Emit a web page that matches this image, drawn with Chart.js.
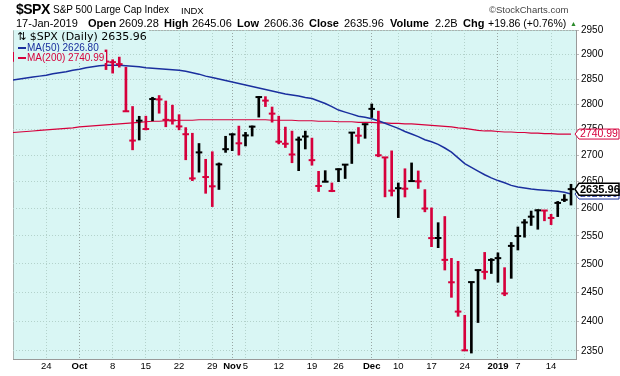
<!DOCTYPE html>
<html>
<head>
<meta charset="utf-8">
<title>$SPX Daily</title>
<script src="https://cdn.jsdelivr.net/npm/chart.js@4.4.1/dist/chart.umd.min.js"></script>
<style>
    html, body { margin: 0; padding: 0; background: #fff; }
    #wrap { position: relative; width: 620px; height: 376px; overflow: hidden; }
    #graph_spx { position: absolute; left: 0; top: 0; }
    .txt { position: absolute; white-space: nowrap; color: #000; line-height: 1;
           font-family: "Liberation Sans", Arial, sans-serif; font-size: 11px; }
    .l2 { top: 18px; }
    .b { font-weight: bold; }
    .lg { position: absolute; left: 14px; background: #d9f6f4; white-space: nowrap; line-height: 1;
          font-family: "Liberation Sans", Arial, sans-serif; font-size: 10px; padding: 1px 2px 0 4px; }
    .dash { display: inline-block; width: 8px; height: 2px; vertical-align: middle; margin-right: 1px; }
</style>
</head>
<body>
<div id="wrap">
    <canvas id="graph_spx" width="620" height="376"></canvas>

    <!-- cabecera -->
    <div class="txt b" style="left:16px; top:2px; font-size:14px; letter-spacing:-0.5px;">$SPX</div>
    <div class="txt" style="left:53px; top:5px; font-size:10px;">S&amp;P 500 Large Cap Index</div>
    <div class="txt" style="left:181px; top:6px; font-size:9.5px;">INDX</div>
    <div class="txt" style="left:489px; top:5px; font-size:9.5px; color:#444;">&copy;StockCharts.com</div>

    <div class="txt l2" style="left:16px;">17-Jan-2019</div>
    <div class="txt l2 b" style="left:88px;">Open</div>
    <div class="txt l2" style="left:119px;">2609.28</div>
    <div class="txt l2 b" style="left:164px;">High</div>
    <div class="txt l2" style="left:192px;">2645.06</div>
    <div class="txt l2 b" style="left:237px;">Low</div>
    <div class="txt l2" style="left:264px;">2606.36</div>
    <div class="txt l2 b" style="left:309px;">Close</div>
    <div class="txt l2" style="left:344px;">2635.96</div>
    <div class="txt l2 b" style="left:390px;">Volume</div>
    <div class="txt l2" style="left:435px;">2.2B</div>
    <div class="txt l2 b" style="left:463px;">Chg</div>
    <div class="txt l2" style="left:488px; font-size:10.5px;">+19.86 (+0.76%)</div>
    <div class="txt" style="left:570px; top:20px; font-size:7px; color:#2a8a2a;">&#9650;</div>

    <!-- leyenda -->
    <div class="lg" style="top:30px; font-family:'DejaVu Sans',Verdana,sans-serif; font-size:11px; padding-left:3px;">&#8645; $SPX (Daily) 2635.96</div>
    <div class="lg" style="top:42px; color:#1a2f9e;"><span class="dash" style="background:#1a2f9e"></span>MA(50) 2626.80</div>
    <div class="lg" style="top:52px; color:#d6003c;"><span class="dash" style="background:#d6003c"></span>MA(200) 2740.99</div>
</div>

<script>
// ############################## $SPX DIARIO CON MEDIAS MÓVILES ############################### //
const days = [
    'Sep 17','Sep 18','Sep 19','Sep 20','Sep 21','Sep 24','Sep 25','Sep 26','Sep 27','Sep 28',
    'Oct 1','Oct 2','Oct 3','Oct 4','Oct 5','Oct 8','Oct 9','Oct 10','Oct 11','Oct 12',
    'Oct 15','Oct 16','Oct 17','Oct 18','Oct 19','Oct 22','Oct 23','Oct 24','Oct 25','Oct 26',
    'Oct 29','Oct 30','Oct 31','Nov 1','Nov 2','Nov 5','Nov 6','Nov 7','Nov 8','Nov 9',
    'Nov 12','Nov 13','Nov 14','Nov 15','Nov 16','Nov 19','Nov 20','Nov 21','Nov 23','Nov 26',
    'Nov 27','Nov 28','Nov 29','Nov 30','Dec 3','Dec 4','Dec 6','Dec 7','Dec 10','Dec 11',
    'Dec 12','Dec 13','Dec 14','Dec 17','Dec 18','Dec 19','Dec 20','Dec 21','Dec 24','Dec 26',
    'Dec 27','Dec 28','Dec 31','Jan 2','Jan 3','Jan 4','Jan 7','Jan 8','Jan 9','Jan 10',
    'Jan 11','Jan 14','Jan 15','Jan 16','Jan 17'
];

const high = [
    2904.65,2911.17,2912.36,2934.80,2940.91,2923.79,2923.95,2931.15,2927.22,2920.53,
    2937.06,2931.42,2939.86,2919.78,2909.64,2889.45,2894.83,2874.02,2795.14,2775.77,
    2775.99,2813.46,2816.94,2806.04,2797.77,2778.94,2753.59,2742.59,2722.70,2692.38,
    2706.85,2685.43,2736.69,2741.67,2756.55,2744.27,2756.82,2815.15,2814.75,2794.10,
    2775.99,2754.60,2746.80,2735.38,2746.75,2733.16,2669.44,2670.73,2647.55,2674.35,
    2682.53,2744.00,2753.75,2760.88,2800.18,2785.93,2696.15,2708.54,2647.51,2674.35,
    2685.44,2670.19,2635.07,2601.13,2573.99,2585.29,2509.63,2504.41,2410.34,2467.76,
    2489.10,2520.27,2509.24,2519.49,2493.14,2538.07,2566.16,2579.82,2595.32,2597.82,
    2596.27,2589.32,2613.08,2625.76,2645.06
];

const low = [
    2886.16,2890.43,2903.82,2919.73,2927.11,2912.63,2913.70,2903.28,2909.27,2907.50,
    2917.91,2919.37,2921.36,2883.92,2869.29,2862.08,2874.27,2784.86,2710.51,2729.44,
    2749.03,2766.91,2781.81,2755.18,2760.27,2749.22,2691.43,2651.89,2667.84,2628.16,
    2603.54,2635.34,2705.60,2708.85,2700.44,2717.94,2737.08,2774.13,2794.99,2764.24,
    2722.00,2714.98,2685.75,2670.75,2712.16,2681.09,2631.52,2649.82,2631.09,2649.97,
    2655.89,2684.38,2722.94,2732.76,2773.38,2697.18,2621.53,2623.14,2583.23,2621.30,
    2650.26,2637.27,2593.84,2530.54,2528.71,2488.96,2441.18,2408.55,2351.10,2346.58,
    2397.94,2472.89,2482.82,2467.47,2443.96,2474.33,2524.56,2547.56,2568.89,2562.02,
    2577.40,2570.41,2585.10,2612.68,2606.36
];

const close = [
    2888.80,2904.31,2907.95,2930.75,2929.67,2919.37,2915.56,2905.97,2914.00,2913.98,
    2924.59,2923.43,2925.51,2901.61,2885.57,2884.43,2880.34,2785.68,2728.37,2767.13,
    2750.79,2809.92,2809.21,2768.78,2767.78,2755.88,2740.69,2656.10,2705.57,2658.69,
    2641.25,2682.63,2711.74,2740.37,2723.06,2738.31,2755.45,2813.89,2806.83,2781.01,
    2726.22,2722.18,2701.58,2730.20,2736.27,2690.73,2641.89,2649.93,2632.56,2673.45,
    2682.17,2743.79,2737.80,2760.17,2790.37,2700.06,2695.95,2633.08,2637.72,2636.78,
    2651.07,2650.54,2599.95,2545.94,2546.16,2506.96,2467.42,2416.62,2351.10,2467.70,
    2488.83,2485.74,2506.85,2510.03,2447.89,2531.94,2549.69,2574.41,2584.96,2596.64,
    2596.26,2582.61,2610.30,2616.10,2635.96
];

const ma50 = [
    2848,2850,2852,2854,2856,2858,2861,2863,2865,2868,
    2870,2873,2875,2877,2878,2878,2878,2877,2876,2875,
    2873,2872,2871,2870,2869,2868,2866,2863,2860,2856,
    2853,2850,2847,2844,2841,2838,2835,2832,2829,2826,
    2823,2820,2818,2816,2813,2811,2806,2801,2795,2788,
    2784,2780,2776,2774,2771,2767,2762,2757,2752,2746,
    2741,2736,2730,2726,2721,2714,2706,2695,2684,2677,
    2670,2663,2657,2652,2648,2643,2640,2638,2636,2635,
    2634,2633,2632,2630,2626.80
];

const ma200 = [
    2744,2745,2746,2747,2748,2749,2750,2751,2752,2753,
    2755,2756,2757,2758,2759,2760,2761,2762,2763,2764,
    2765,2766,2766,2767,2767,2768,2768,2768,2769,2769,
    2769,2769,2769,2769,2769,2769,2769,2769,2769,2768,
    2768,2768,2768,2767,2767,2767,2766,2766,2766,2765,
    2765,2765,2764,2764,2764,2763,2763,2762,2762,2761,
    2761,2760,2759,2758,2757,2756,2755,2753,2752,2750,
    2748,2747,2747,2746,2745,2745,2744,2744,2743,2743,
    2742,2742,2741,2741,2740.99
];

const yTicks = [2350,2375,2400,2425,2450,2475,2500,2525,2550,2575,2600,2625,2650,
                2675,2700,2725,2750,2775,2800,2825,2850,2875,2900,2925,2950];
const xTickDays = ['Sep 24','Oct 1','Oct 8','Oct 15','Oct 22','Oct 29','Nov 1','Nov 5','Nov 12',
                   'Nov 19','Nov 26','Dec 3','Dec 10','Dec 17','Dec 24','Jan 2','Jan 7','Jan 14'];
const xTickText = ['24','Oct','8','15','22','29','Nov','5','12','19','26','Dec','10','17','24','2019','7','14'];
const monthDays = ['Oct 1','Nov 1','Dec 3','Jan 2'];

const lastClose = 2635.96;
const lastMA50 = 2626.80;
const lastMA200 = 2740.99;

// colores
const ROJO = '#d6003c';
const AZUL = '#1a2f9e';
const FONDO = '#d9f6f4';

const xTickIdx = xTickDays.map(d => days.indexOf(d));
const monthIdx = monthDays.map(d => days.indexOf(d));
const barColors = close.map((c, i) => (i > 0 && c >= close[i - 1]) ? '#000000' : ROJO);

const fondo_plot = {
    id: 'fondo_plot',
    beforeDraw(chart) {
        const {ctx, chartArea: a} = chart;
        ctx.save();
        ctx.fillStyle = FONDO;
        ctx.fillRect(a.left, a.top, a.right - a.left, a.bottom - a.top);
        ctx.strokeStyle = '#a9b3b1';
        ctx.lineWidth = 1;
        ctx.beginPath();
        ctx.moveTo(a.left + 0.5, a.bottom);
        ctx.lineTo(a.left + 0.5, a.top + 0.5);
        ctx.lineTo(a.right, a.top + 0.5);
        ctx.stroke();
        ctx.restore();
    }
};

// cajitas con el último valor en el eje derecho
function caja(ctx, y, txt, color, bold) {
    const x0 = 575, x1 = 579, x2 = 619, h = bold ? 6 : 5;
    ctx.beginPath();
    ctx.moveTo(x0, y);
    ctx.lineTo(x1, y - h);
    ctx.lineTo(x2, y - h);
    ctx.lineTo(x2, y + h);
    ctx.lineTo(x1, y + h);
    ctx.closePath();
    ctx.fillStyle = '#ffffff';
    ctx.fill();
    ctx.lineWidth = bold ? 1.5 : 1;
    ctx.strokeStyle = color;
    ctx.stroke();
    ctx.fillStyle = color;
    ctx.font = (bold ? 'bold 11px' : '10.5px') + ' "Liberation Sans", Arial, sans-serif';
    ctx.textBaseline = 'middle';
    ctx.textAlign = 'left';
    ctx.fillText(txt, 580, y + 0.5);
}

const cajas_valor = {
    id: 'cajas_valor',
    afterDraw(chart) {
        const ctx = chart.ctx;
        const y = chart.scales.y;
        ctx.save();
        caja(ctx, y.getPixelForValue(lastMA200), lastMA200.toFixed(2), ROJO, false);
        caja(ctx, y.getPixelForValue(lastMA50), lastMA50.toFixed(2), AZUL, false);
        caja(ctx, y.getPixelForValue(lastClose), lastClose.toFixed(2), '#000000', true);
        ctx.restore();
    }
};

const data_spx = {
    datasets: [{
        type: 'line',
        label: 'MA(200)',
        data: ma200.map((v, i) => ({x: i, y: v})),
        borderColor: ROJO,
        borderWidth: 1.2,
        pointRadius: 0,
        order: 3
    },{
        type: 'line',
        label: 'MA(50)',
        data: ma50.map((v, i) => ({x: i, y: v})),
        borderColor: AZUL,
        borderWidth: 1.5,
        pointRadius: 0,
        order: 2
    },{
        type: 'bar',
        label: 'High-Low',
        data: days.map((d, i) => ({x: i, y: [low[i], high[i]]})),
        backgroundColor: barColors,
        borderWidth: 0,
        barThickness: 2,
        order: 1
    },{
        type: 'scatter',
        label: 'Close',
        data: close.map((v, i) => ({x: i, y: v})),
        pointStyle: 'line',
        pointRadius: 3.3,
        pointBorderWidth: 2,
        pointBorderColor: barColors,
        pointBackgroundColor: barColors,
        order: 0
    }]
};

const config = {
    type: 'bar',
    data: data_spx,
    plugins: [fondo_plot, cajas_valor],
    options: {
        responsive: false,
        animation: false,
        devicePixelRatio: 1,
        layout: { padding: { left: 13, top: 30, right: 0, bottom: 0 } },
        scales: {
            x: {
                type: 'linear',
                offset: false,
                min: 0,
                max: 84.75,
                afterBuildTicks: (s) => { s.ticks = xTickIdx.map(v => ({value: v})); },
                afterFit: (s) => { s.height = 17; },
                ticks: {
                    autoSkip: false,
                    maxRotation: 0,
                    padding: 2,
                    color: '#000',
                    font: (c) => ({
                        family: '"Liberation Sans", Arial, sans-serif',
                        size: 9.5,
                        weight: (c.tick && monthIdx.includes(c.tick.value)) ? 'bold' : 'normal'
                    }),
                    callback: (v) => xTickText[xTickIdx.indexOf(v)]
                },
                grid: {
                    offset: false,
                    color: (c) => (c.tick && monthIdx.includes(c.tick.value)) ? '#98a6a3' : '#b3d2cb',
                    drawTicks: false
                },
                border: { display: true, color: '#999', dash: [1, 2] }
            },
            y: {
                type: 'logarithmic',
                position: 'right',
                min: 2336.7,
                max: 2951,
                afterBuildTicks: (s) => { s.ticks = yTicks.map(v => ({value: v})); },
                afterFit: (s) => { s.width = 44; },
                ticks: {
                    padding: 2,
                    color: '#000',
                    font: { family: '"Liberation Sans", Arial, sans-serif', size: 10 },
                    callback: (v) => String(v)
                },
                grid: { color: '#b3d2cb', tickColor: '#bbb', tickLength: 3 },
                border: { display: true, color: '#999', dash: [1, 2] }
            }
        },
        plugins: {
            legend: { display: false },
            tooltip: { enabled: false }
        }
    }
};

const spx_chart = new Chart(
    document.getElementById('graph_spx'),
    config
);
// ###################################################################################### //
</script>
</body>
</html>
